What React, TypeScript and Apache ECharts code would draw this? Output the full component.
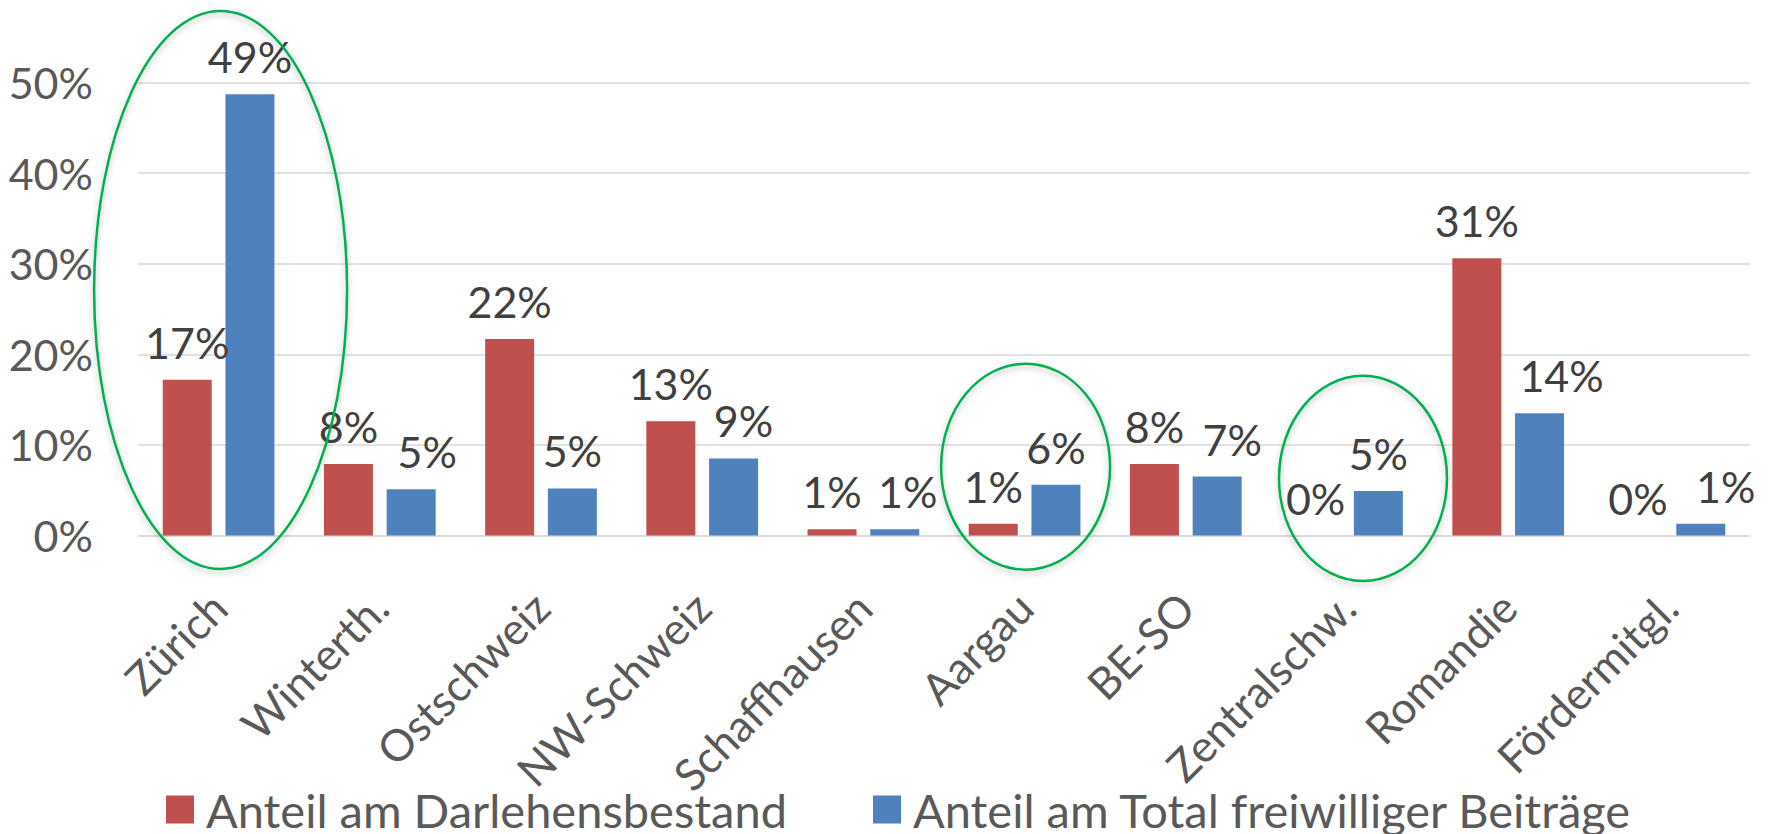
import React, { useEffect, useRef } from "react";
import * as echarts from "echarts";

const categories = [
  "Zürich",
  "Winterth.",
  "Ostschweiz",
  "NW-Schweiz",
  "Schaffhausen",
  "Aargau",
  "BE-SO",
  "Zentralschw.",
  "Romandie",
  "Fördermitgl.",
];
const loanShare = [17.2, 7.9, 21.7, 12.6, 0.7, 1.3, 7.9, 0, 30.6, 0];
const contribShare = [48.7, 5.1, 5.2, 8.5, 0.7, 5.6, 6.5, 4.9, 13.5, 1.3];
const seriesNames = [
  "Anteil am Darlehensbestand",
  "Anteil am Total freiwilliger Beiträge",
];
const yMin = 0;
const yMax = 50;
const yStep = 10;

const RED = "#C0504D";
const BLUE = "#4F81BD";
const FONT = "Lato";

export default function App() {
  const ref = useRef<HTMLDivElement>(null);

  useEffect(() => {
    if (!ref.current) return;
    const chart = echarts.init(ref.current, undefined, { renderer: "svg" });
    const blueNudge = [0, 16, 0, 10, 13, 0, 15, 0, 22, 25];
    const fmt = (p: any) => Math.round(p.value) + "%";
    const labelBase = {
      show: true,
      position: "top" as const,
      distance: 16,
      color: "#404040",
      fontFamily: FONT,
      fontSize: 43,
      formatter: fmt,
    };
    chart.setOption({
      animation: false,
      backgroundColor: "#ffffff",
      textStyle: { fontFamily: FONT },
      grid: { left: 138, right: 21, top: 82.5, bottom: 298.5, containLabel: false },
      legend: {
        data: seriesNames,
        left: 166,
        top: 786,
        padding: 0,
        itemWidth: 28,
        itemHeight: 28,
        itemGap: 86,
        icon: "rect",
        textStyle: {
          color: "#595959",
          fontFamily: FONT,
          fontSize: 47,
          lineHeight: 40,
          padding: [0, 0, 0, 7],
        },
      },
      xAxis: {
        type: "category",
        data: categories,
        axisLine: { lineStyle: { color: "#D9D9D9", width: 1.5 } },
        axisTick: { show: false },
        axisLabel: {
          rotate: 45,
          margin: 64,
          color: "#595959",
          fontFamily: FONT,
          fontSize: 44,
          interval: 0,
        },
      },
      yAxis: {
        type: "value",
        min: yMin,
        max: yMax,
        interval: yStep,
        axisLine: { show: false },
        axisTick: { show: false },
        splitLine: { lineStyle: { color: "#D9D9D9", width: 1.5 } },
        axisLabel: {
          margin: 45,
          color: "#595959",
          fontFamily: FONT,
          fontSize: 43,
          formatter: (v: number) => v + "%",
        },
      },
      series: [
        {
          name: seriesNames[0],
          type: "bar",
          data: loanShare,
          barWidth: "30.4%",
          barGap: "28%",
          itemStyle: { color: RED },
          label: labelBase,
        },
        {
          name: seriesNames[1],
          type: "bar",
          data: contribShare.map((v, i) => ({
            value: v,
            label: { offset: [blueNudge[i], 0] },
          })),
          barWidth: "30.4%",
          barGap: "28%",
          itemStyle: { color: BLUE },
          label: labelBase,
        },
      ],
    });

    // annotation ellipses placed relative to category centers
    const ell = (cat: number, dx: number, vCenter: number, rx: number, ry: number) => {
      const x = (chart.convertToPixel({ xAxisIndex: 0 }, cat) as number) + dx;
      const y = chart.convertToPixel({ yAxisIndex: 0 }, vCenter) as number;
      return {
        type: "ellipse",
        shape: { cx: x, cy: y, rx, ry },
        z: 100,
        style: {
          fill: "none",
          stroke: "#00B050",
          lineWidth: 2.5,
          shadowBlur: 6,
          shadowColor: "rgba(0,0,0,0.25)",
          shadowOffsetY: 3,
        },
      };
    };
    chart.setOption({
      graphic: [
        ell(0, 2, 27.1, 126.5, 279),
        ell(5, 1, 7.6, 84.5, 103),
        ell(7, 16, 6.3, 84, 102.6),
      ],
    });

    return () => chart.dispose();
  }, []);

  return (
    <div
      ref={ref}
      style={{ position: "fixed", left: 0, top: 0, width: 1771, height: 834 }}
    />
  );
}
